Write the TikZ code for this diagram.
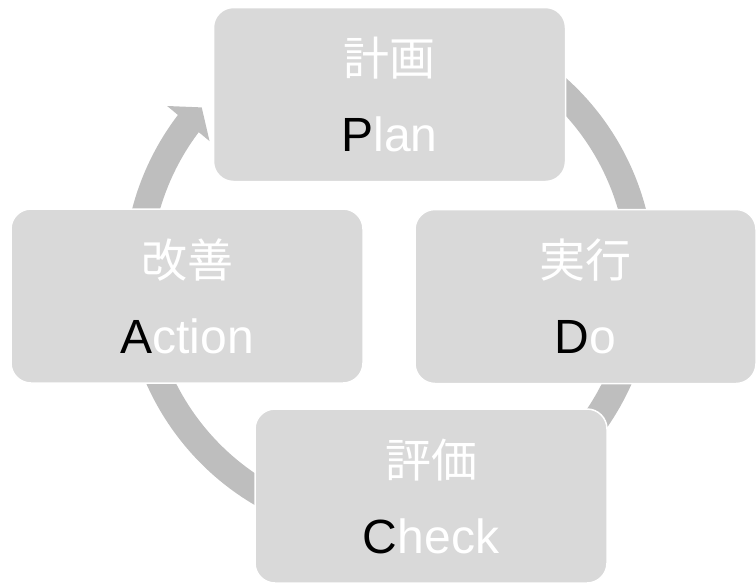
\documentclass[tikz,border=0pt]{standalone}
\usepackage{fontspec}
\setmainfont{Liberation Sans}
\newfontfamily\jpfont{Noto Sans CJK JP}
\usepackage{xcolor}
\usepackage{tikz}
\usetikzlibrary{arrows.meta,bending}

\definecolor{boxgray}{HTML}{D9D9D9}
\definecolor{arcgray}{HTML}{BEBEBE}

% two-line stage label: Japanese word, then the English word with its initial in black
\newcommand{\pdcatext}[3]{{\jpfont\fontsize{46}{76}\selectfont #1}\\\textcolor{black}{#2}#3}

\tikzset{
  stagebox/.style={draw=white, line width=1.5pt, fill=boxgray, rounded corners=20pt,
    minimum width=352pt, minimum height=174pt, inner sep=0pt, align=center,
    text=white, font=\fontsize{48}{76}\selectfont},
  cyclearrow/.style={draw=arcgray, line width=27pt, -{Triangle[length=21pt, width=54pt]}}
}

\begin{document}
\begin{tikzpicture}[x=1pt, y=1pt]
  \useasboundingbox (0,0) rectangle (756,-582);
  \coordinate (hub) at (389,-276);

  % the circular arrow runs behind the four boxes
  \draw[cyclearrow] ([shift={(60:252pt)}]hub) arc[start angle=60, end angle=-222, radius=252pt];

  \node[stagebox] (plan) at (389.5,-94.5) {\pdcatext{計画}{P}{lan}};
  \node[stagebox, minimum width=341pt] (do) at (585.5,-296.5) {\pdcatext{実行}{D}{o}};
  \node[stagebox] (check) at (431,-496) {\pdcatext{評価}{C}{heck}};
  \node[stagebox] (act) at (187,-296) {\pdcatext{改善}{A}{ction}};
\end{tikzpicture}
\end{document}
